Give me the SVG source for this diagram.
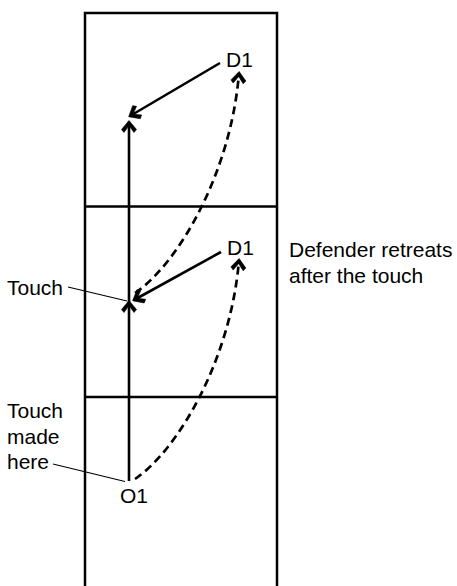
<svg xmlns="http://www.w3.org/2000/svg" width="457" height="586" viewBox="0 0 457 586">
  <style>
    .court { fill: none; stroke: #000; stroke-width: 2.5; }
    .move { fill: none; stroke: #000; stroke-width: 2.6; }
    .run { fill: none; stroke: #000; stroke-width: 2.7; stroke-dasharray: 8 5; }
    .leader { fill: none; stroke: #000; stroke-width: 1.2; }
    text { font-family: "Liberation Sans", Arial, sans-serif; font-size: 21px; fill: #000; }
  </style>
  <defs>
    <!-- bold open chevron arrowhead, tip at the path end -->
    <marker id="chev" viewBox="-13 -9 16 18" markerWidth="16" markerHeight="18" refX="0" refY="0" orient="auto" markerUnits="userSpaceOnUse">
      <path d="M1.5,0 L-7.5,-7.5 L-10.5,-5 L-3,0.4 L-3,-0.4 L-10.5,5 L-7.5,7.5 Z" fill="#000" stroke="#000" stroke-width="0.6" stroke-linejoin="miter"/>
    </marker>
  </defs>

  <!-- court outline and dividing lines -->
  <g id="court">
    <path class="court" d="M85,600 V13 H277 V600"/>
    <line class="court" x1="85" y1="206.5" x2="277" y2="206.5"/>
    <line class="court" x1="85" y1="397" x2="277" y2="397"/>
  </g>

  <g id="connectors">
    <!-- attacker's straight advance -->
    <path class="move" d="M129,481 L129,302 L129,122" marker-mid="url(#chev)" marker-end="url(#chev)"/>
    <!-- defender steps in -->
    <line class="move" x1="221" y1="252" x2="134" y2="300" marker-end="url(#chev)"/>
    <line class="move" x1="220" y1="63" x2="130" y2="116" marker-end="url(#chev)"/>
    <!-- defender retreats -->
    <path class="run" d="M135,479 C178,450 231,359 239,260" marker-end="url(#chev)"/>
    <path class="run" d="M135,293 C178,264 231,173 239,73" marker-end="url(#chev)"/>
    <!-- label leaders -->
    <line class="leader" x1="68" y1="287" x2="127" y2="301"/>
    <line class="leader" x1="53" y1="464" x2="125" y2="481.5"/>
  </g>

  <g id="o1"><text x="120" y="502.5">O1</text></g>
  <g id="d1-top"><text x="226" y="67">D1</text></g>
  <g id="d1-mid"><text x="227" y="255">D1</text></g>
  <g id="label-touch"><text x="7" y="295">Touch</text></g>
  <g id="label-made">
    <text x="7" y="418">Touch</text>
    <text x="7" y="443.5">made</text>
    <text x="7" y="468.5">here</text>
  </g>
  <g id="label-retreat">
    <text x="289" y="256.5">Defender retreats</text>
    <text x="289" y="283">after the touch</text>
  </g>
</svg>
